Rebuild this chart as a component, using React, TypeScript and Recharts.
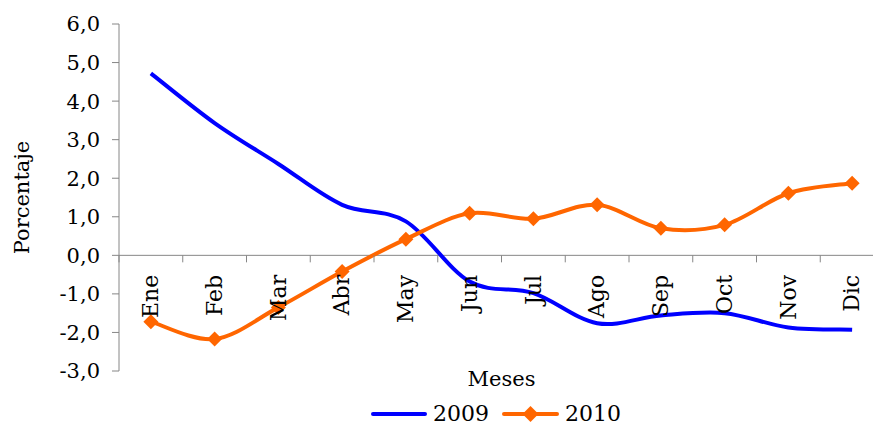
import React from "react"
import { LineChart, Line, XAxis, YAxis, ReferenceLine } from "recharts"

const months = ["Ene", "Feb", "Mar", "Abr", "May", "Jun", "Jul", "Ago", "Sep", "Oct", "Nov", "Dic"]
const values2009 = [4.72, 3.43, 2.37, 1.31, 0.88, -0.68, -0.98, -1.76, -1.56, -1.5, -1.87, -1.93]
const values2010 = [-1.72, -2.17, -1.35, -0.42, 0.42, 1.09, 0.95, 1.31, 0.7, 0.79, 1.61, 1.87]
const yTicks = [-3, -2, -1, 0, 1, 2, 3, 4, 5, 6]

const data = months.map((month, i) => ({
  month,
  y2009: values2009[i],
  y2010: values2010[i],
}))

const BLUE = "#0000ff"
const ORANGE = "#ff6600"
const AXIS = "#868686"
const FONT = "'DejaVu Serif', serif"

// layout
const CHART_W = 900
const CHART_H = 426
const TOP = 24
const PLOT_H = 347
const LEFT = 119
const RIGHT_MARGIN = 16
const PLOT_W = CHART_W - LEFT - RIGHT_MARGIN
const BAND = PLOT_W / months.length
const ZERO_Y = TOP + (6 / 9) * PLOT_H

// Excel-like smoothed line (Catmull-Rom through the points)
const smoothCurve = (context: any) => {
  let pts: number[][] = []
  return {
    areaStart() {},
    areaEnd() {},
    lineStart() {
      pts = []
    },
    point(x: number, y: number) {
      pts.push([+x, +y])
    },
    lineEnd() {
      if (!pts.length) return
      context.moveTo(pts[0][0], pts[0][1])
      for (let i = 0; i < pts.length - 1; i++) {
        const p0 = pts[i - 1] || pts[i]
        const p1 = pts[i]
        const p2 = pts[i + 1]
        const p3 = pts[i + 2] || p2
        context.bezierCurveTo(
          p1[0] + (p2[0] - p0[0]) / 6,
          p1[1] + (p2[1] - p0[1]) / 6,
          p2[0] - (p3[0] - p1[0]) / 6,
          p2[1] - (p3[1] - p1[1]) / 6,
          p2[0],
          p2[1]
        )
      }
    },
  }
}

const Diamond = (props: any) => {
  const { cx, cy } = props
  if (cx == null || cy == null) return null
  const r = 7.5
  return (
    <polygon
      points={`${cx},${cy - r} ${cx + r},${cy} ${cx},${cy + r} ${cx - r},${cy}`}
      fill={ORANGE}
      stroke="none"
    />
  )
}

const MonthTick = (props: any) => {
  const { x, payload, index } = props
  const ty = ZERO_Y + 19.5
  return (
    <g>
      <line x1={x - BAND / 2} x2={x - BAND / 2} y1={ZERO_Y} y2={ZERO_Y + 7} stroke={AXIS} />
      {index === months.length - 1 && (
        <line x1={x + BAND / 2} x2={x + BAND / 2} y1={ZERO_Y} y2={ZERO_Y + 7} stroke={AXIS} />
      )}
      <text
        x={0}
        y={0}
        dy="0.33em"
        transform={`translate(${x},${ty}) rotate(-90)`}
        textAnchor="end"
        fontFamily={FONT}
        fontSize={22}
        fill="#000"
      >
        {payload.value}
      </text>
    </g>
  )
}

const fmt = (v: number) => v.toFixed(1).replace(".", ",")

const Legend = () => (
  <div
    style={{
      position: "absolute",
      left: 371,
      top: 403,
      display: "flex",
      alignItems: "center",
      fontFamily: FONT,
      fontSize: 22,
      lineHeight: "22px",
      color: "#000",
    }}
  >
    <svg width={56} height={16}>
      <line x1={2} x2={54} y1={8} y2={8} stroke={BLUE} strokeWidth={4} strokeLinecap="round" />
    </svg>
    <span style={{ marginLeft: 6, marginRight: 13 }}>2009</span>
    <svg width={57} height={16}>
      <line x1={2} x2={55} y1={8} y2={8} stroke={ORANGE} strokeWidth={4} strokeLinecap="round" />
      <polygon points="28.5,0 36.5,8 28.5,16 20.5,8" fill={ORANGE} />
    </svg>
    <span style={{ marginLeft: 6 }}>2010</span>
  </div>
)

export default function App() {
  return (
    <div
      style={{
        position: "absolute",
        left: 0,
        top: 0,
        width: 873,
        height: 426,
        overflow: "hidden",
        background: "#fff",
      }}
    >
      <LineChart
        width={CHART_W}
        height={CHART_H}
        data={data}
        margin={{ top: TOP, right: RIGHT_MARGIN, bottom: 0, left: 0 }}
      >
        <XAxis
          dataKey="month"
          axisLine={false}
          tickLine={false}
          height={CHART_H - TOP - PLOT_H}
          padding={{ left: BAND / 2, right: BAND / 2 }}
          tick={<MonthTick />}
          interval={0}
          label={{
            value: "Meses",
            position: "insideTop",
            offset: 0,
            fontFamily: FONT,
            fontSize: 21,
            fill: "#000",
          }}
        />
        <YAxis
          width={LEFT}
          domain={[-3, 6]}
          ticks={yTicks}
          interval={0}
          tickFormatter={fmt}
          tickSize={7}
          tickMargin={12}
          stroke={AXIS}
          tick={{ fontFamily: FONT, fontSize: 21, fill: "#000" }}
          label={{
            content: () => (
              <text
                x={0}
                y={0}
                transform={`translate(22,${TOP + PLOT_H / 2}) rotate(-90)`}
                textAnchor="middle"
                dominantBaseline="central"
                fontFamily={FONT}
                fontSize={21}
                fill="#000"
              >
                Porcentaje
              </text>
            ),
          }}
        />
        <ReferenceLine y={0} stroke={AXIS} strokeWidth={1} />
        <Line
          dataKey="y2009"
          type={smoothCurve as any}
          stroke={BLUE}
          strokeWidth={4}
          dot={false}
          activeDot={false}
          isAnimationActive={false}
        />
        <Line
          dataKey="y2010"
          type={smoothCurve as any}
          stroke={ORANGE}
          strokeWidth={4}
          dot={<Diamond />}
          activeDot={false}
          isAnimationActive={false}
        />
      </LineChart>
      <Legend />
    </div>
  )
}
